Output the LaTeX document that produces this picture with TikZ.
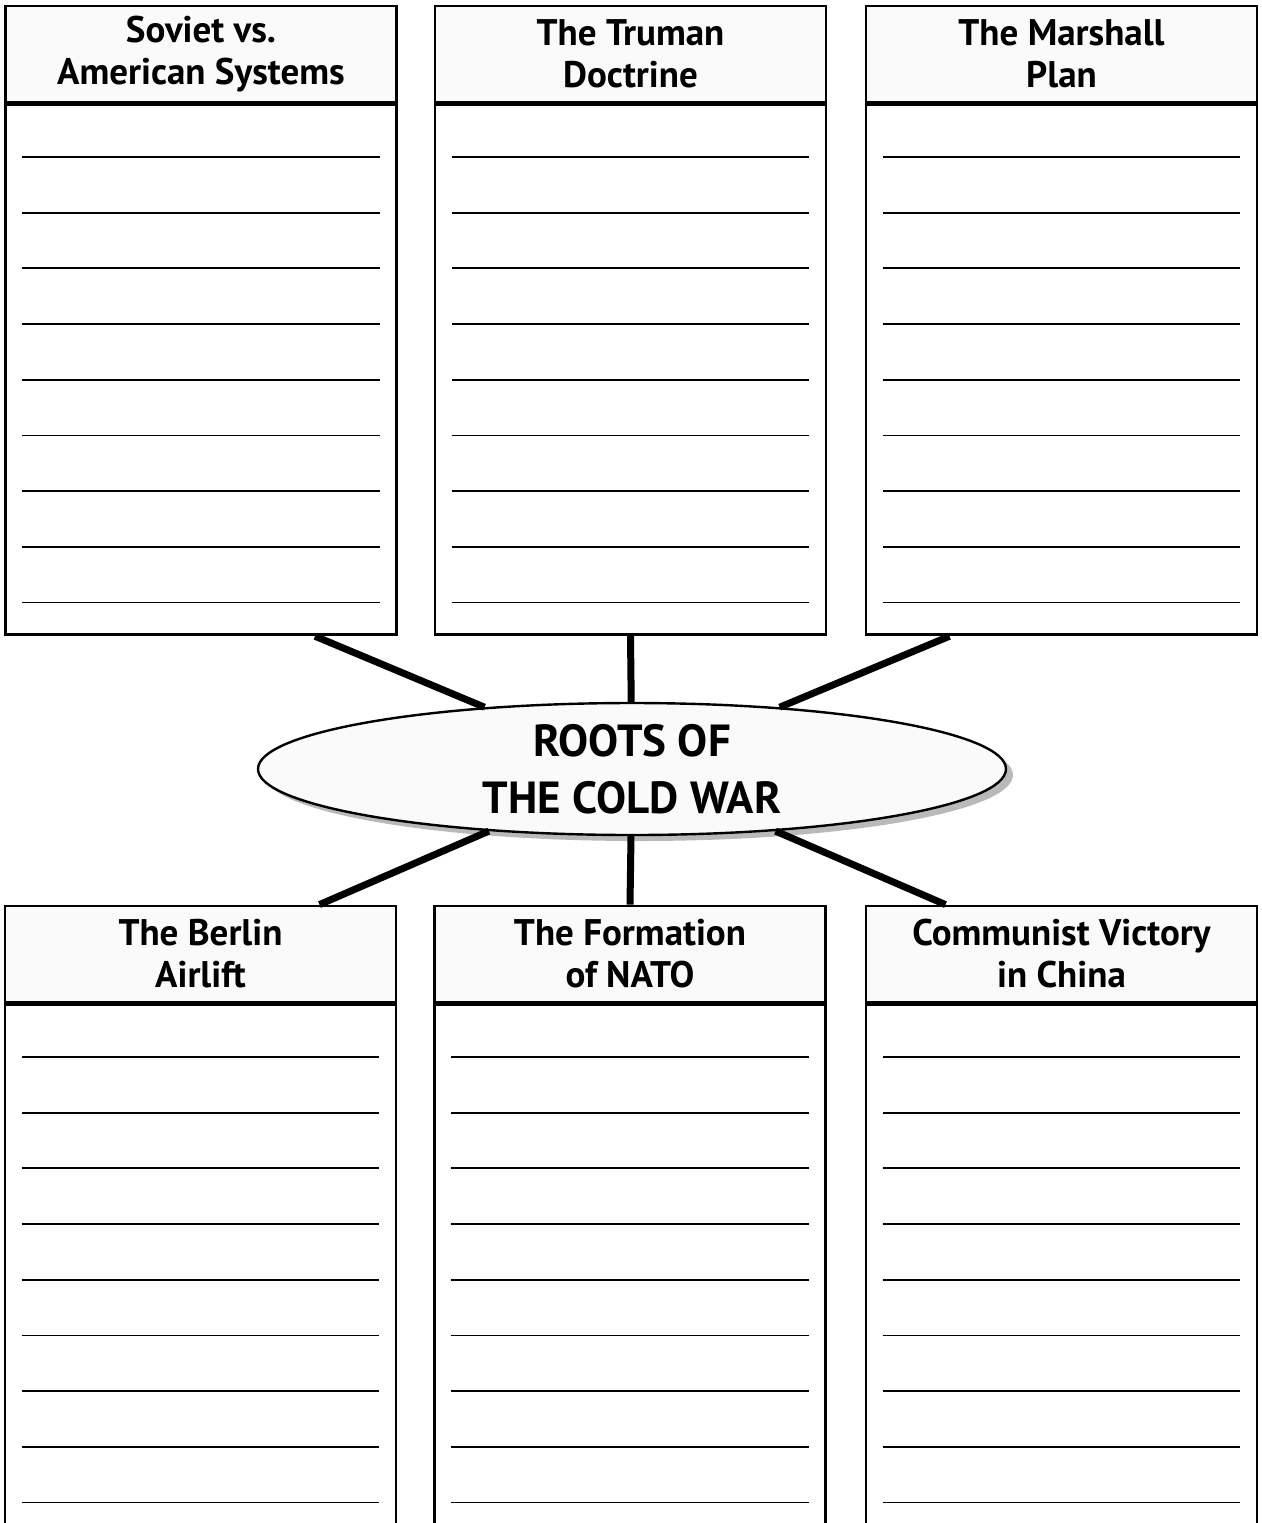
\documentclass[tikz,border=0pt]{standalone}
\usepackage{fontspec}
\setmainfont{PT Sans}
\usetikzlibrary{shapes.geometric,shadows,calc}

\begin{document}
\begin{tikzpicture}[x=0.5pt, y=-0.5pt]
  \tikzset{
    head/.style={draw, line width=1.4pt, fill=gray!4, minimum width=195.5pt, minimum height=48pt,
      inner sep=0pt, align=center, font=\fontsize{18.5}{21}\selectfont\bfseries},
    body/.style={draw, line width=1.4pt, minimum width=195.5pt, anchor=north, inner sep=0pt},
    rule/.style={line width=0.9pt},
    link/.style={line width=3.5pt},
  }
  \useasboundingbox (0,0) rectangle (1262,1523);
  \clip (0,0) rectangle (1262,1523);
  % top row of panels
  \node[head] (sov-head) at (201,54) {Soviet vs.\\American Systems};
  \node[head] (tru-head) at (630.5,54) {The Truman\\Doctrine};
  \node[head] (mar-head) at (1061.5,54) {The Marshall\\Plan};
  \foreach \n in {sov,tru,mar}
    \node[body, minimum height=265pt] (\n-body) at (\n-head.south) {};
  % bottom row, runs off the page
  \node[head] (ber-head) at (200.5,954) {The Berlin\\Airlift};
  \node[head] (nato-head) at (630,954) {The Formation\\of NATO};
  \node[head] (chi-head) at (1061.5,954) {Communist Victory\\in China};
  \foreach \n in {ber,nato,chi}
    \node[body, minimum height=300pt] (\n-body) at (\n-head.south) {};
  % writing lines
  \foreach \n in {sov,tru,mar,ber,nato,chi}
    \foreach \k in {0,...,8}
      \draw[rule] ($(\n-body.north west)+(18,53.5+55.7*\k)$) -- ($(\n-body.north east)+(-18,53.5+55.7*\k)$);
  % centre
  \node[ellipse, draw, line width=1.2pt, fill=gray!4, minimum width=374pt, minimum height=66pt,
    inner sep=0pt, align=center, font=\fontsize{22.5}{28.5}\selectfont\bfseries,
    drop shadow={shadow xshift=3.5pt, shadow yshift=-3pt, fill=gray!55, opacity=1}]
    (roots) at (632,769) {ROOTS OF\\THE COLD WAR};
  \draw[link] ([xshift=57pt]sov-body.south) -- (roots);
  \draw[link] (tru-body.south) -- (roots);
  \draw[link] ([xshift=-56pt]mar-body.south) -- (roots);
  \draw[link] (roots) -- ([xshift=59.5pt]ber-head.north);
  \draw[link] (roots) -- (nato-head.north);
  \draw[link] (roots) -- ([xshift=-58pt]chi-head.north);
\end{tikzpicture}
\end{document}
